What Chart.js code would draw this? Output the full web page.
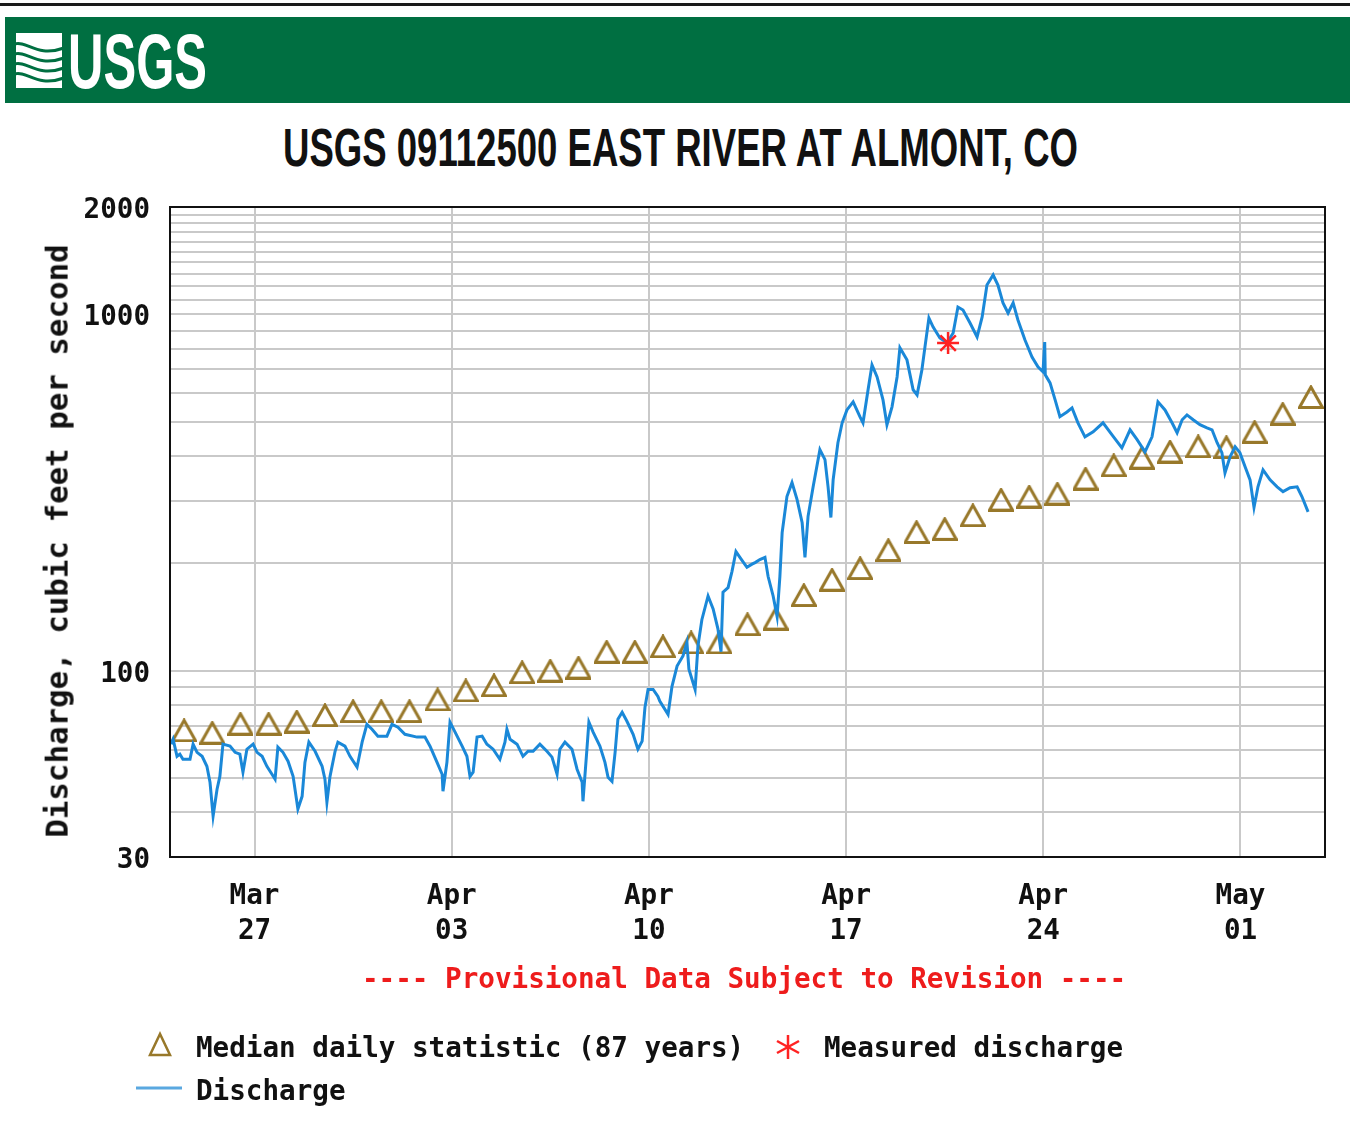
<!DOCTYPE html>
<html>
<head>
<meta charset="utf-8">
<title>USGS 09112500 EAST RIVER AT ALMONT, CO</title>
<script src="https://cdn.jsdelivr.net/npm/chart.js@4.4.0/dist/chart.umd.min.js"></script>
<style>
  body { margin: 0; background: #fff; }
  #page { position: relative; width: 1350px; height: 1139px; overflow: hidden; background: #fff; }
  #topRule { position: absolute; left: 0; top: 3px; width: 1350px; height: 3px; background: #1a1a1a; }
  #banner { position: absolute; left: 5px; top: 17px; width: 1345px; height: 86px; background: #006f41; }
  .narrow { position: absolute; white-space: nowrap; font-family: "Liberation Sans Narrow", "Liberation Sans", Arial, sans-serif; font-weight: bold; line-height: 1; transform-origin: left top; }
  #logoText { left: 68px; top: 23px; font-size: 77px; color: #fff; }
  #title { left: 283px; top: 120px; font-size: 54px; color: #111; }
  .mono { position: absolute; white-space: nowrap; font-family: "DejaVu Sans Mono", "Liberation Mono", monospace; font-weight: bold; font-size: 27.6px; line-height: 1; color: #111; }
  #provisional { left: 362px; top: 965px; color: #ee1c1c; }
  #yTitle { left: 57px; top: 541px; font-size: 30.8px; transform: translate(-50%, -50%) rotate(-90deg); }
  #chart { position: absolute; left: 0; top: 0; }
  #marks { position: absolute; left: 0; top: 0; }
</style>
</head>
<body>
<div id="page">
  <div id="topRule"></div>
  <div id="banner"></div>
  <svg id="logoIcon" width="1350" height="120" style="position:absolute;left:0;top:0">
    <path d="M16 33 H62 V88 H16 Z" fill="#fff"/>
    <path d="M14 44 C28 40, 36 58, 64 48" stroke="#006f41" stroke-width="3" fill="none"/>
    <path d="M14 54 C28 50, 36 68, 64 58" stroke="#006f41" stroke-width="3" fill="none"/>
    <path d="M14 64 C28 60, 36 78, 64 68" stroke="#006f41" stroke-width="3" fill="none"/>
    <path d="M14 74 C28 70, 36 88, 64 78" stroke="#006f41" stroke-width="3" fill="none"/>
  </svg>
  <div id="logoText" class="narrow">USGS</div>
  <div id="title" class="narrow">USGS 09112500 EAST RIVER AT ALMONT, CO</div>
  <canvas id="chart" width="1350" height="1139"></canvas>
  <div id="yTitle" class="mono">Discharge, cubic feet per second</div>
  <div id="provisional" class="mono">---- Provisional Data Subject to Revision ----</div>
  <svg id="marks" width="1350" height="1139">
    <path d="M150 1055 L170 1055 L160 1034 Z" stroke="#98782a" stroke-width="2.5" fill="none"/>
    <g stroke="#ff2222" stroke-width="2.5">
      <line x1="788" y1="1035" x2="788" y2="1059"/>
      <line x1="777" y1="1041" x2="799" y2="1053"/>
      <line x1="777" y1="1053" x2="799" y2="1041"/>
    </g>
    <line x1="136" y1="1088" x2="182" y2="1088" stroke="#5aa8e0" stroke-width="3"/>
  </svg>
  <div class="mono" style="left:196px;top:1034px">Median daily statistic (87 years)</div>
  <div class="mono" style="left:824px;top:1034px">Measured discharge</div>
  <div class="mono" style="left:196px;top:1077px">Discharge</div>
</div>
<script>
// days since Mar 24 00:00
const dischargeDay = [0.04,0.11,0.25,0.35,0.46,0.71,0.82,0.96,1.14,1.31,1.42,1.53,1.67,1.77,1.88,2.13,2.31,2.48,2.59,2.73,
  2.95,3.09,3.27,3.44,3.62,3.73,3.83,4.01,4.19,4.37,4.54,4.69,4.79,4.93,5.15,5.40,5.50,5.57,5.68,5.86,
  5.96,6.21,6.39,6.64,6.82,6.99,7.17,7.38,7.70,7.88,8.09,8.34,
  8.77,9.05,9.23,9.48,9.66,9.69,9.83,9.94,10.12,10.37,10.54,10.65,10.76,10.90,11.08,11.25,11.47,11.71,11.89,11.96,
  12.07,12.32,12.53,12.71,12.89,13.13,13.38,13.56,13.74,13.84,14.02,14.27,14.45,14.63,14.66,14.80,14.87,15.02,
  15.26,15.44,15.55,15.69,15.80,15.90,16.05,16.22,16.44,16.61,16.76,16.86,16.97,17.15,17.32,
  17.39,17.68,17.82,18.00,18.21,18.35,18.42,18.64,18.74,18.88,19.10,19.28,19.45,19.56,19.63,19.81,19.95,20.09,
  20.23,20.48,20.66,20.77,20.94,21.12,21.23,21.41,21.55,21.65,21.73,21.90,22.08,22.26,22.44,22.54,22.65,22.83,
  23.07,23.25,23.36,23.46,23.54,23.71,23.86,24.03,24.25,24.49,
  24.60,24.78,24.92,25.10,25.31,25.45,25.63,25.81,25.91,26.16,26.38,26.52,26.69,26.80,26.94,27.09,27.33,27.58,
  27.80,27.97,28.15,28.40,28.65,28.83,29.00,29.22,29.39,29.57,29.75,29.93,30.10,30.35,30.60,30.81,30.99,31.05,
  31.07,31.24,31.42,31.59,31.84,32.02,32.23,32.48,32.77,33.12,33.44,33.79,34.08,34.33,34.61,34.86,35.07,35.32,
  35.57,35.75,35.93,36.10,36.32,36.56,36.81,36.99,37.17,37.34,37.45,37.63,37.81,37.98,38.16,38.34,38.48,38.62,
  38.80,39.05,39.30,39.51,39.76,40.01,40.18,40.40];
const dischargeCfs = [62.2,64.2,57.5,58.3,56.4,56.4,62.2,59.0,57.5,53.9,48.6,39.1,46.5,50.5,62.2,61.4,59.0,58.3,51.9,60.2,
  62.2,59.0,57.5,53.9,51.2,49.6,61.0,59.0,55.7,50.5,40.9,44.4,55.3,63.0,59.4,53.9,49.6,42.7,50.5,59.4,
  63.0,61.4,57.5,53.6,63.0,70.7,68.5,65.5,65.5,70.7,69.4,66.3,
  65.1,65.1,61.4,55.3,51.2,45.9,55.3,71.7,67.2,61.4,57.5,50.5,51.9,65.1,65.5,62.2,60.2,56.4,63.0,68.5,
  64.2,62.2,57.5,59.4,59.4,62.2,59.4,57.2,51.2,60.2,63.0,60.2,52.9,48.6,43.0,60.2,71.7,67.2,
  61.4,55.3,50.2,48.9,59.0,73.1,76.4,72.1,66.3,60.2,63.4,78.9,88.6,88.6,84.7,
  82.0,75.4,90.4,103,110,120,101,88.6,117,139,162,149,131,113,166,171,190,216,
  208,195,199,201,205,208,184,162,142,184,244,308,337,302,260,208,271,328,
  417,391,328,269,343,436,496,539,568,516,
  496,614,721,667,575,490,550,667,805,745,614,594,698,810,976,921,858,831,
  886,1048,1028,945,864,983,1208,1289,1208,1076,1008,1076,964,847,759,712,689,836,
  676,642,575,516,532,546,496,453,468,496,459,422,474,445,411,453,568,539,
  496,465,506,522,506,490,480,474,436,409,359,398,425,409,374,343,287,328,
  366,343,328,318,326,328,308,279];

// median daily statistic, one per day (Mar 24 .. May 3), plotted at noon
const medianCfs = [68,67,71,71,72,75,77,77,77,83,88,91,99,100,102,113,113,117,120,120,
  135,140,163,180,194,218,245,250,273,302,308,314,346,377,396,412,426,424,468,526,586];

const measuredDay = [27.62];
const measuredCfs = [830];

const xTickDays = [3, 10, 17, 24, 31, 38];
const xTickLabels = [['Mar','27'],['Apr','03'],['Apr','10'],['Apr','17'],['Apr','24'],['May','01']];
const yGridValues = [30,40,50,60,70,80,90,100,200,300,400,500,600,700,800,900,
  1000,1100,1200,1300,1400,1500,1600,1700,1800,1900,2000];
const yTickLabels = [30, 100, 1000, 2000];

// squeeze the narrow headline text to the width it has in the picture
function fitWidth(id, w) {
  const el = document.getElementById(id);
  const r = el.getBoundingClientRect().width;
  el.style.transform = 'scaleX(' + (w / r) + ')';
}
fitWidth('logoText', 139);
fitWidth('title', 795);

function triangleMark() {
  const c = document.createElement('canvas');
  c.width = 26; c.height = 24;
  const g = c.getContext('2d');
  g.strokeStyle = '#98782a';
  g.lineWidth = 3;
  g.beginPath();
  g.moveTo(13, 2);
  g.lineTo(24.5, 22.5);
  g.lineTo(1.5, 22.5);
  g.closePath();
  g.stroke();
  return c;
}

const frame = {
  id: 'frame',
  afterDraw(chart) {
    const a = chart.chartArea, ctx = chart.ctx;
    ctx.save();
    ctx.strokeStyle = '#111';
    ctx.lineWidth = 2;
    ctx.strokeRect(a.left, a.top, a.right - a.left, a.bottom - a.top);
    ctx.restore();
  }
};

const monoFont = { family: '"DejaVu Sans Mono", "Liberation Mono", monospace', weight: 'bold', size: 27.6 };

new Chart(document.getElementById('chart'), {
  type: 'scatter',
  data: {
    datasets: [
      {
        label: 'Measured discharge',
        data: measuredDay.map((d, i) => ({ x: d, y: measuredCfs[i] })),
        pointStyle: 'star',
        pointRadius: 11,
        borderColor: '#ff2222',
        borderWidth: 2.5,
        showLine: false
      },
      {
        label: 'Discharge',
        data: dischargeDay.map((d, i) => ({ x: d, y: dischargeCfs[i] })),
        showLine: true,
        borderColor: '#1a88d8',
        borderWidth: 3,
        pointRadius: 0,
        tension: 0
      },
      {
        label: 'Median daily statistic (87 years)',
        data: medianCfs.map((v, i) => ({ x: i + 0.5, y: v })),
        pointStyle: triangleMark(),
        showLine: false
      }
    ]
  },
  options: {
    responsive: false,
    animation: false,
    devicePixelRatio: 1,
    layout: { padding: { left: 0, top: 207, right: 25, bottom: 182 } },
    plugins: { legend: { display: false }, tooltip: { enabled: false } },
    scales: {
      x: {
        type: 'linear',
        min: 0,
        max: 41,
        afterFit(scale) { scale.height = 100; },
        afterBuildTicks(scale) { scale.ticks = xTickDays.map(v => ({ value: v })); },
        grid: { color: '#c9c9c9', lineWidth: 2, drawTicks: false },
        border: { display: false },
        ticks: {
          autoSkip: false,
          maxRotation: 0,
          padding: 22,
          color: '#111',
          font: Object.assign({ lineHeight: 1.27 }, monoFont),
          callback: (v, i) => xTickLabels[i]
        }
      },
      y: {
        type: 'logarithmic',
        min: 30,
        max: 2000,
        afterFit(scale) { scale.width = 170; },
        afterBuildTicks(scale) { scale.ticks = yGridValues.map(v => ({ value: v })); },
        grid: { color: '#c9c9c9', lineWidth: 2, drawTicks: false },
        border: { display: false },
        ticks: {
          autoSkip: false,
          padding: 20,
          labelOffset: 4,
          color: '#111',
          font: monoFont,
          callback: v => (yTickLabels.includes(v) ? String(v) : '')
        }
      }
    }
  },
  plugins: [frame]
});
</script>
</body>
</html>
